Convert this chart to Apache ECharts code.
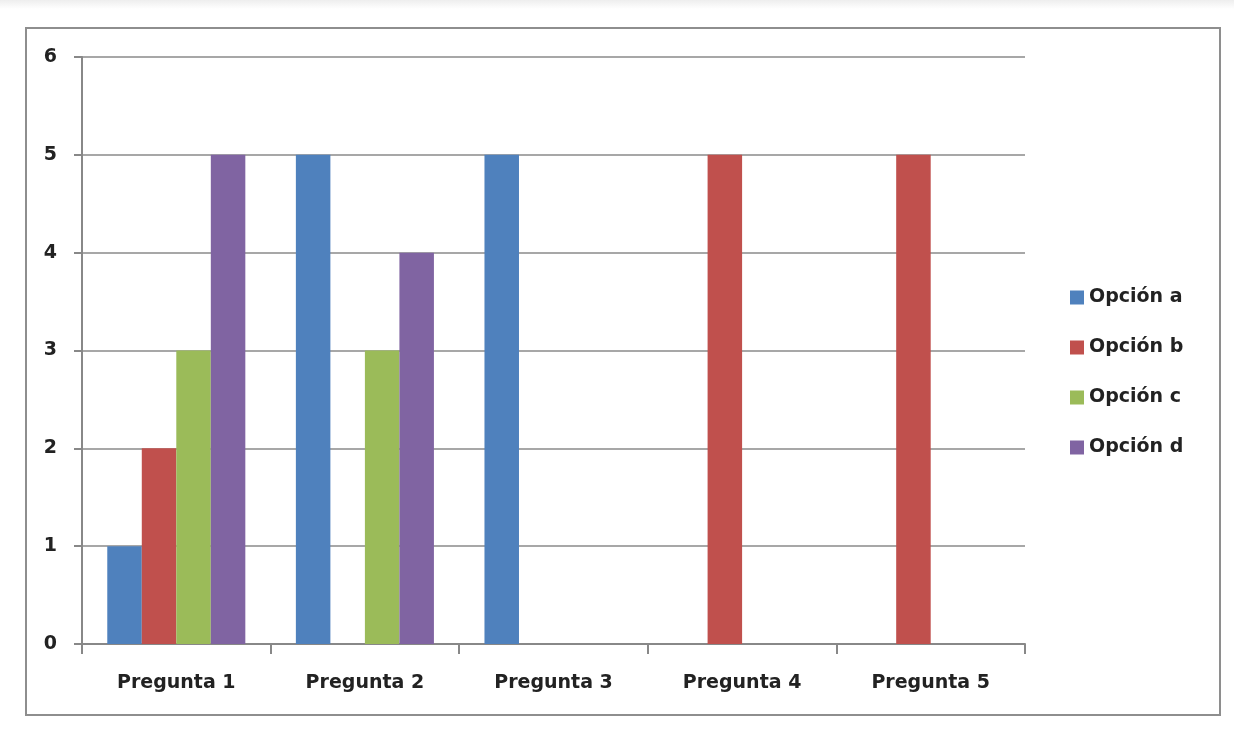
<!DOCTYPE html>
<html>
<head>
<meta charset="utf-8">
<script src="https://cdn.jsdelivr.net/npm/echarts@6/dist/echarts.min.js"></script>
<style>
  html, body { margin: 0; padding: 0; background: #ffffff; }
  #chart { width: 1234px; height: 729px; }
</style>
</head>
<body>
<div id="chart"></div>
<script>
// Survey answers per question
const categories = ['Pregunta 1', 'Pregunta 2', 'Pregunta 3', 'Pregunta 4', 'Pregunta 5'];
const seriesNames = ['Opción a', 'Opción b', 'Opción c', 'Opción d'];
const opcionA = [1, 5, 5, 0, 0];
const opcionB = [2, 0, 0, 5, 5];
const opcionC = [3, 3, 0, 0, 0];
const opcionD = [5, 4, 0, 0, 0];
const yTicks = [0, 1, 2, 3, 4, 5, 6];

const colors = ['#4F81BD', '#C0504D', '#9BBB59', '#8064A2'];
const values = [opcionA, opcionB, opcionC, opcionD];
const font = '"DejaVu Sans", "Liberation Sans", sans-serif';
const textColor = '#222222';

const chart = echarts.init(document.getElementById('chart'), null, { renderer: 'canvas' });

chart.setOption({
  backgroundColor: '#ffffff',
  animation: false,
  color: colors,
  graphic: [
    {
      type: 'rect',
      shape: { x: 0, y: 0, width: 1234, height: 9 },
      style: {
        fill: new echarts.graphic.LinearGradient(0, 0, 0, 1, [
          { offset: 0, color: '#eeeeee' },
          { offset: 1, color: '#ffffff' }
        ])
      },
      silent: true
    },
    {
      type: 'rect',
      shape: { x: 26, y: 28, width: 1194, height: 687 },
      style: { fill: 'none', stroke: '#8e8e8e', lineWidth: 2 },
      silent: true,
      z: 10
    }
  ],
  grid: { left: 82, right: 209, top: 57, bottom: 85, containLabel: false },
  legend: {
    orient: 'vertical',
    left: 1065,
    top: 283,
    itemWidth: 14,
    itemHeight: 14,
    itemGap: 31,
    icon: 'rect',
    data: seriesNames,
    textStyle: { fontFamily: font, fontSize: 19, fontWeight: 'bold', color: textColor }
  },
  xAxis: {
    type: 'category',
    data: categories,
    axisLine: { lineStyle: { color: '#888888', width: 2 } },
    axisTick: { show: true, alignWithLabel: false, length: 10, lineStyle: { color: '#888888', width: 2 } },
    axisLabel: { fontFamily: font, fontSize: 19, fontWeight: 'bold', color: textColor, margin: 30 },
    splitLine: { show: false }
  },
  yAxis: {
    type: 'value',
    min: yTicks[0],
    max: yTicks[yTicks.length - 1],
    interval: 1,
    axisLine: { show: true, lineStyle: { color: '#888888', width: 2 } },
    axisTick: { show: true, length: 8, lineStyle: { color: '#888888', width: 2 } },
    axisLabel: { fontFamily: font, fontSize: 19, color: textColor, margin: 25, fontWeight: 'bold' },
    splitLine: { show: true, lineStyle: { color: '#8a8a8a', width: 1.5 } }
  },
  series: seriesNames.map((name, i) => ({
    name: name,
    type: 'bar',
    data: values[i],
    barGap: '0%',
    barCategoryGap: '26.8%',
    itemStyle: { color: colors[i] }
  }))
});
</script>
</body>
</html>
